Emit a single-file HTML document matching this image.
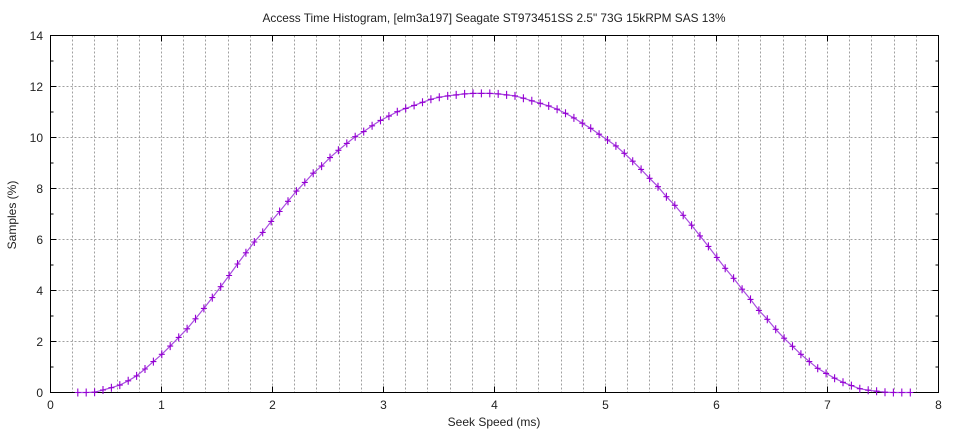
<!DOCTYPE html>
<html><head><meta charset="utf-8"><style>
html,body{margin:0;padding:0;background:#fff;}
svg{display:block;}
text{font-family:"Liberation Sans",Arial,sans-serif;font-size:12px;fill:#222;}
</style></head><body>
<svg width="960" height="432" viewBox="0 0 960 432" xmlns="http://www.w3.org/2000/svg">
<defs>
<marker id="pt" markerWidth="10" markerHeight="10" refX="5" refY="5" markerUnits="userSpaceOnUse" overflow="visible" orient="0">
<path d="M2 5h6M5 1v8" stroke="#9400d3" stroke-width="1.1" fill="none"/>
</marker>
</defs>
<rect width="960" height="432" fill="#fff"/>
<!-- grid -->
<path d="M72.5 35.5V392.5M94.5 35.5V392.5M117.5 35.5V392.5M139.5 35.5V392.5M161.5 35.5V392.5M183.5 35.5V392.5M205.5 35.5V392.5M228.5 35.5V392.5M250.5 35.5V392.5M272.5 35.5V392.5M294.5 35.5V392.5M316.5 35.5V392.5M339.5 35.5V392.5M361.5 35.5V392.5M383.5 35.5V392.5M405.5 35.5V392.5M427.5 35.5V392.5M450.5 35.5V392.5M472.5 35.5V392.5M494.5 35.5V392.5M516.5 35.5V392.5M538.5 35.5V392.5M561.5 35.5V392.5M583.5 35.5V392.5M605.5 35.5V392.5M627.5 35.5V392.5M649.5 35.5V392.5M672.5 35.5V392.5M694.5 35.5V392.5M716.5 35.5V392.5M738.5 35.5V392.5M760.5 35.5V392.5M783.5 35.5V392.5M805.5 35.5V392.5M827.5 35.5V392.5M849.5 35.5V392.5M871.5 35.5V392.5M894.5 35.5V392.5M916.5 35.5V392.5M50.5 341.5H938.5M50.5 290.5H938.5M50.5 239.5H938.5M50.5 188.5H938.5M50.5 137.5H938.5M50.5 86.5H938.5" stroke="#a0a0a0" stroke-width="1" stroke-dasharray="2 2" fill="none"/>
<!-- border -->
<rect x="50.5" y="35.5" width="888" height="357" fill="none" stroke="#000" stroke-width="1"/>
<!-- ticks -->
<path d="M50.5 341.5h6M50.5 290.5h6M50.5 239.5h6M50.5 188.5h6M50.5 137.5h6M50.5 86.5h6M938.5 341.5h-6M938.5 290.5h-6M938.5 239.5h-6M938.5 188.5h-6M938.5 137.5h-6M938.5 86.5h-6
M50.5 367h3M50.5 316h3M50.5 265h3M50.5 214h3M50.5 163h3M50.5 112h3M50.5 61h3M938.5 367h-3M938.5 316h-3M938.5 265h-3M938.5 214h-3M938.5 163h-3M938.5 112h-3M938.5 61h-3
M161.5 392.5v-6M272.5 392.5v-6M383.5 392.5v-6M494.5 392.5v-6M605.5 392.5v-6M716.5 392.5v-6M827.5 392.5v-6
M161.5 35.5v6M272.5 35.5v6M383.5 35.5v6M494.5 35.5v6M605.5 35.5v6M716.5 35.5v6M827.5 35.5v6" stroke="#000" stroke-width="1" fill="none"/>
<!-- data -->
<polyline fill="none" stroke="#a94ee0" stroke-width="1.2" marker-start="url(#pt)" marker-mid="url(#pt)" marker-end="url(#pt)" points="77.8,392.5 86.2,392.5 94.6,392.2 103.0,390.0 111.4,387.7 119.8,385.1 128.2,380.8 136.6,375.9 145.0,369.0 153.4,361.6 161.8,354.3 170.2,346.1 178.7,337.4 187.1,328.8 195.5,318.8 203.9,308.4 212.3,297.6 220.7,286.7 229.1,275.5 237.5,264.0 245.9,252.8 254.3,242.0 262.7,232.4 271.2,221.4 279.6,211.5 288.0,201.3 296.4,191.1 304.8,182.4 313.2,173.2 321.6,166.1 330.0,157.6 338.4,150.3 346.8,143.4 355.2,136.7 363.7,131.6 372.1,125.8 380.5,120.4 388.9,116.1 397.3,111.7 405.7,108.4 414.1,105.4 422.5,102.3 430.9,99.3 439.3,97.2 447.7,95.9 456.2,94.9 464.6,93.9 473.0,93.4 481.4,93.4 489.8,93.4 498.2,93.9 506.6,94.9 515.0,95.9 523.4,98.2 531.8,100.8 540.2,103.3 548.7,105.9 557.1,109.2 565.5,113.3 573.9,117.9 582.3,123.2 590.7,128.3 599.1,134.2 607.5,140.0 615.9,145.9 624.3,153.3 632.7,161.2 641.1,169.4 649.6,178.3 658.0,186.7 666.4,196.7 674.8,205.3 683.2,215.3 691.6,225.2 700.0,235.9 708.4,246.4 716.8,257.4 725.2,268.3 733.6,278.3 742.1,289.2 750.5,299.4 758.9,310.4 767.3,319.3 775.7,329.3 784.1,338.2 792.5,346.3 800.9,354.3 809.3,361.6 817.7,368.3 826.1,373.4 834.6,378.2 843.0,382.3 851.4,385.6 859.8,388.7 868.2,390.2 876.6,391.2 885.0,392.2 893.4,392.5 901.8,392.5 910.3,392.5"/>
<!-- y tick labels -->
<g text-anchor="end">
<text x="43" y="397">0</text>
<text x="43" y="346">2</text>
<text x="43" y="295">4</text>
<text x="43" y="244">6</text>
<text x="43" y="193">8</text>
<text x="43" y="142">10</text>
<text x="43" y="91">12</text>
<text x="43" y="40">14</text>
</g>
<!-- x tick labels -->
<g text-anchor="middle">
<text x="50.5" y="409">0</text>
<text x="161.5" y="409">1</text>
<text x="272.5" y="409">2</text>
<text x="383.5" y="409">3</text>
<text x="494.5" y="409">4</text>
<text x="605.5" y="409">5</text>
<text x="716.5" y="409">6</text>
<text x="827.5" y="409">7</text>
<text x="938.5" y="409">8</text>
</g>
<text x="494" y="426" text-anchor="middle">Seek Speed (ms)</text>
<text x="0" y="0" text-anchor="middle" transform="translate(16,215) rotate(-90)">Samples (%)</text>
<text x="262.5" y="22" textLength="463" lengthAdjust="spacingAndGlyphs">Access Time Histogram, [elm3a197] Seagate ST973451SS 2.5" 73G 15kRPM SAS 13%</text>
</svg>
</body></html>
